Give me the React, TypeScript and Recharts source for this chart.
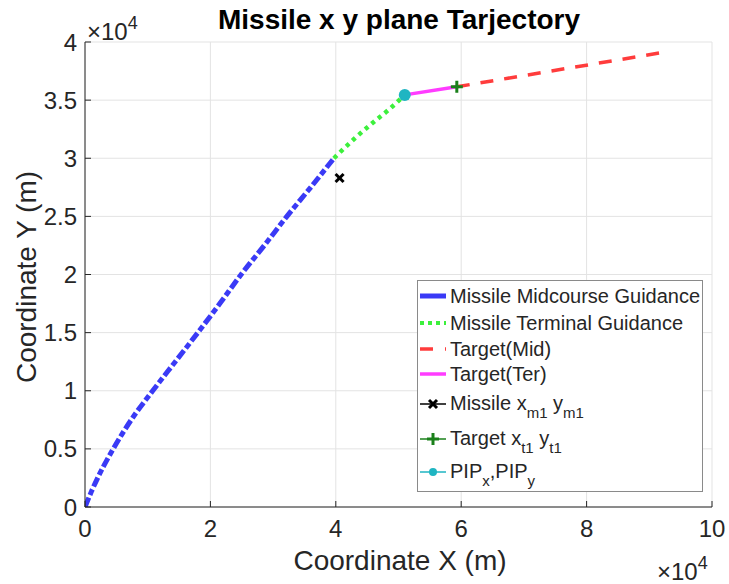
import React from "react"
import { ComposedChart, Line, Scatter, XAxis, YAxis, CartesianGrid } from "recharts"

// values in units of 1e4 m
const xTicks = [0, 2, 4, 6, 8, 10]
const yTicks = [0, 0.5, 1, 1.5, 2, 2.5, 3, 3.5, 4]

const midcourse = [
  { x: 0, y: 0 },
  { x: 0.1, y: 0.13 },
  { x: 0.22, y: 0.27 },
  { x: 0.45, y: 0.5 },
  { x: 0.75, y: 0.76 },
  { x: 1.08, y: 1.0 },
  { x: 1.44, y: 1.25 },
  { x: 1.8, y: 1.5 },
  { x: 2.15, y: 1.75 },
  { x: 2.49, y: 2.0 },
  { x: 2.86, y: 2.25 },
  { x: 3.22, y: 2.5 },
  { x: 3.6, y: 2.75 },
  { x: 3.97, y: 3.0 },
]

const terminal = [
  { x: 3.97, y: 3.0 },
  { x: 4.3, y: 3.17 },
  { x: 4.6, y: 3.31 },
  { x: 4.85, y: 3.42 },
  { x: 5.1, y: 3.545 },
]

const targetMid = [
  { x: 5.93, y: 3.615 },
  { x: 9.27, y: 3.915 },
]

const targetTer = [
  { x: 5.1, y: 3.545 },
  { x: 5.93, y: 3.615 },
]

const missilePoint = [{ x: 4.06, y: 2.83 }]
const targetPoint = [{ x: 5.93, y: 3.615 }]
const pipPoint = [{ x: 5.1, y: 3.545 }]

const BLUE = "#3a3af6"
const GREEN = "#3cf03c"
const RED = "#ff3c3c"
const MAGENTA = "#ff3cff"
const DKGREEN = "#1a801a"
const CYAN = "#1fb5c2"
const AXIS = "#262626"
const FONT = "'Liberation Sans', Arial, Helvetica, sans-serif"

const XMark = (props: any) => {
  const { cx, cy } = props
  const s = 4
  return (
    <g stroke="#000" strokeWidth={3}>
      <line x1={cx - s} y1={cy - s} x2={cx + s} y2={cy + s} />
      <line x1={cx - s} y1={cy + s} x2={cx + s} y2={cy - s} />
    </g>
  )
}

const PlusMark = (props: any) => {
  const { cx, cy } = props
  const s = 6
  return (
    <g stroke={DKGREEN} strokeWidth={3}>
      <line x1={cx - s} y1={cy} x2={cx + s} y2={cy} />
      <line x1={cx} y1={cy - s} x2={cx} y2={cy + s} />
    </g>
  )
}

const DotMark = (props: any) => {
  const { cx, cy } = props
  return <circle cx={cx} cy={cy} r={6} fill={CYAN} />
}

const emptyTick = () => <g />

const Sub = ({ children }: { children: React.ReactNode }) => (
  <span style={{ fontSize: 15, position: "relative", top: 8 }}>{children}</span>
)

function LegendSample({ kind }: { kind: string }) {
  return (
    <svg width={30} height={14} style={{ flex: "none", marginRight: 2 }}>
      {kind === "mid" && <line x1={2} y1={7} x2={28} y2={7} stroke={BLUE} strokeWidth={5} />}
      {kind === "ter" && <line x1={2} y1={7} x2={28} y2={7} stroke={GREEN} strokeWidth={4} strokeDasharray="4 4" />}
      {kind === "tmid" && <line x1={2} y1={7} x2={28} y2={7} stroke={RED} strokeWidth={3.5} strokeDasharray="13 12" />}
      {kind === "tter" && <line x1={2} y1={7} x2={28} y2={7} stroke={MAGENTA} strokeWidth={3.5} />}
      {kind === "mpt" && (
        <g>
          <line x1={2} y1={7} x2={28} y2={7} stroke="#000" strokeWidth={1.5} />
          <XMark cx={15} cy={7} />
        </g>
      )}
      {kind === "tpt" && (
        <g>
          <line x1={2} y1={7} x2={28} y2={7} stroke={DKGREEN} strokeWidth={1.5} />
          <PlusMark cx={15} cy={7} />
        </g>
      )}
      {kind === "pip" && (
        <g>
          <line x1={2} y1={7} x2={28} y2={7} stroke={CYAN} strokeWidth={1.5} />
          <circle cx={15} cy={7} r={4} fill={CYAN} />
        </g>
      )}
    </svg>
  )
}

const legendRows = [
  { kind: "mid", h: 26, label: <>Missile Midcourse Guidance</> },
  { kind: "ter", h: 28, label: <>Missile Terminal Guidance</> },
  { kind: "tmid", h: 24, label: <>Target(Mid)</> },
  { kind: "tter", h: 26, label: <>Target(Ter)</> },
  { kind: "mpt", h: 34, label: <>Missile x<Sub>m1</Sub> y<Sub>m1</Sub></> },
  { kind: "tpt", h: 36, label: <>Target x<Sub>t1</Sub> y<Sub>t1</Sub></> },
  { kind: "pip", h: 30, label: <>PIP<Sub>x</Sub>,PIP<Sub>y</Sub></> },
]

export default function App() {
  const tickStyle = { fontSize: 24, fill: AXIS, fontFamily: FONT }
  return (
    <div style={{ position: "relative", width: 729, height: 584, background: "#fff", fontFamily: FONT }}>
      <style>{"body{margin:0}"}</style>
      <ComposedChart width={729} height={584} margin={{ top: 42, right: 17, left: 0, bottom: 0 }}>
        <CartesianGrid stroke="#e3e3e3" />
        <XAxis
          dataKey="x"
          type="number"
          domain={[0, 10]}
          ticks={xTicks}
          height={77}
          allowDataOverflow
          stroke={AXIS}
          tick={tickStyle}
          tickSize={-6}
          tickMargin={19}
        />
        <XAxis
          xAxisId="top"
          orientation="top"
          type="number"
          domain={[0, 10]}
          ticks={xTicks}
          height={0}
          stroke={AXIS}
          tick={emptyTick}
          tickSize={-6}
        />
        <YAxis
          dataKey="y"
          type="number"
          domain={[0, 4]}
          ticks={yTicks}
          width={85}
          allowDataOverflow
          stroke={AXIS}
          tick={tickStyle}
          tickSize={-6}
          tickMargin={14}
        />
        <YAxis
          yAxisId="right"
          orientation="right"
          type="number"
          domain={[0, 4]}
          ticks={yTicks}
          width={0}
          stroke={AXIS}
          tick={emptyTick}
          tickSize={-6}
        />
        <Line data={midcourse} dataKey="y" type="monotone" stroke={BLUE} strokeWidth={5} strokeDasharray="10 3 6 3" dot={false} activeDot={false} isAnimationActive={false} />
        <Line data={terminal} dataKey="y" type="monotone" stroke={GREEN} strokeWidth={4.5} strokeDasharray="4 4.5" dot={false} activeDot={false} isAnimationActive={false} />
        <Line data={targetMid} dataKey="y" type="linear" stroke={RED} strokeWidth={3.5} strokeDasharray="13 11" dot={false} activeDot={false} isAnimationActive={false} />
        <Line data={targetTer} dataKey="y" type="linear" stroke={MAGENTA} strokeWidth={3.5} dot={false} activeDot={false} isAnimationActive={false} />
        <Scatter data={missilePoint} shape={XMark} isAnimationActive={false} />
        <Scatter data={targetPoint} shape={PlusMark} isAnimationActive={false} />
        <Scatter data={pipPoint} shape={DotMark} isAnimationActive={false} />
      </ComposedChart>

      <svg width={729} height={584} style={{ position: "absolute", left: 0, top: 0, pointerEvents: "none" }}>
        <text x={399} y={29} textAnchor="middle" fontSize={28} fontWeight="bold" fill="#000" fontFamily={FONT}>
          Missile x y plane Tarjectory
        </text>
        <text x={87} y={40} fontSize={24} fill={AXIS} fontFamily={FONT}>
          ×10<tspan fontSize={18} dy={-11}>4</tspan>
        </text>
        <text x={657} y={580} fontSize={24} fill={AXIS} fontFamily={FONT}>
          ×10<tspan fontSize={18} dy={-11}>4</tspan>
        </text>
        <text x={400} y={570} textAnchor="middle" fontSize={28} fill={AXIS} fontFamily={FONT}>
          Coordinate X (m)
        </text>
        <text transform="translate(36,277) rotate(-90)" textAnchor="middle" fontSize={28} fill={AXIS} fontFamily={FONT}>
          Coordinate Y (m)
        </text>
      </svg>

      <div
        style={{
          position: "absolute",
          left: 417,
          top: 280,
          width: 286,
          height: 212,
          boxSizing: "border-box",
          border: "1px solid #8a8a8a",
          background: "#fff",
          paddingTop: 2,
          fontSize: 20,
          color: AXIS,
        }}
      >
        {legendRows.map((r) => (
          <div key={r.kind} style={{ height: r.h, display: "flex", alignItems: "center", whiteSpace: "nowrap" }}>
            <LegendSample kind={r.kind} />
            <span style={{ lineHeight: "24px" }}>{r.label}</span>
          </div>
        ))}
      </div>
    </div>
  )
}
